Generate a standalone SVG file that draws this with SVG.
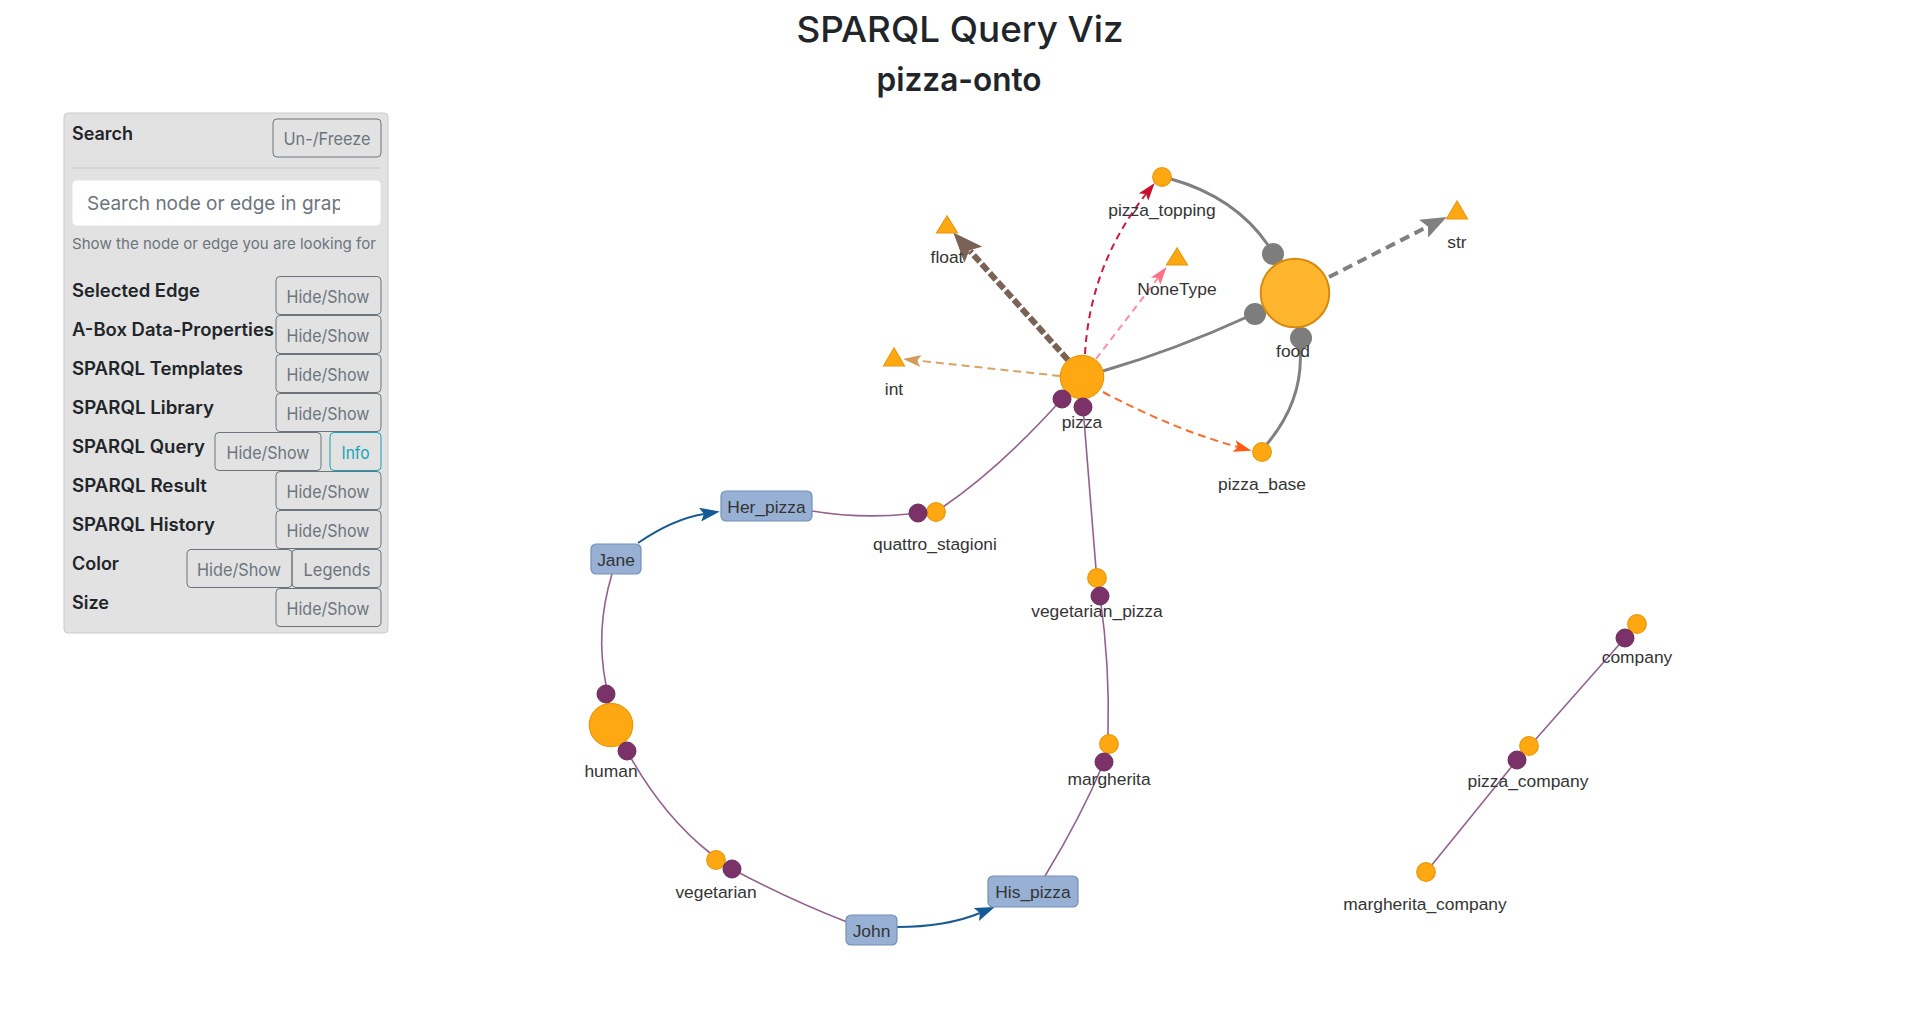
<svg xmlns="http://www.w3.org/2000/svg" width="1920" height="1030" viewBox="0 0 1920 1030">
<style>
.ui{font-family:"Inter","Liberation Sans",Arial,sans-serif}
.title{font-size:36px;font-weight:500;fill:#212529;text-anchor:middle}
.sub{font-size:33px;font-weight:600;fill:#212529;text-anchor:middle}
.hdr{font-size:18px;font-weight:600;fill:#212529}
.btn{fill:none;stroke:#6c757d;stroke-width:1}
.btxt{font-size:17px;fill:#6c757d;text-anchor:middle}
.info{fill:none;stroke:#17a2b8;stroke-width:1}
.itxt{font-size:17px;fill:#17a2b8;text-anchor:middle}
.lbl{font-family:"Liberation Sans",Arial,sans-serif;font-size:17.4px;fill:#343434;text-anchor:middle}
.e-purple{fill:none;stroke:#93618f;stroke-width:1.6}
.e-gray{fill:none;stroke:#808080;stroke-width:3}
.e-blue{fill:none;stroke:#1a5a92;stroke-width:2}
.dot-p{fill:#7a3269;stroke:#6b2b5c;stroke-width:1}
.dot-g{fill:#7d7d7d}
.n-orange{fill:#ffa812;stroke:#e8980c;stroke-width:1.2}
.n-box{fill:#97b0d3;stroke:#7391b8;stroke-width:1.2}
</style>
<defs>
<clipPath id="inputClip"><rect x="72" y="180" width="268" height="46"/></clipPath>
<marker id="mk-brown" viewBox="0 0 30 24" refX="5" refY="12" markerWidth="30" markerHeight="24" markerUnits="userSpaceOnUse" orient="auto"><path d="M0,0 L30,12 L0,24 L6,12 z" fill="#7a6356"/></marker>
<marker id="mk-tan" viewBox="0 0 18 12" refX="4" refY="6" markerWidth="18" markerHeight="12" markerUnits="userSpaceOnUse" orient="auto"><path d="M0,0 L18,6 L0,12 L4,6 z" fill="#d49a5c"/></marker>
<marker id="mk-crimson" viewBox="0 0 18 12" refX="4" refY="6" markerWidth="18" markerHeight="12" markerUnits="userSpaceOnUse" orient="auto"><path d="M0,0 L18,6 L0,12 L4,6 z" fill="#c8102e"/></marker>
<marker id="mk-pink" viewBox="0 0 18 12" refX="4" refY="6" markerWidth="18" markerHeight="12" markerUnits="userSpaceOnUse" orient="auto"><path d="M0,0 L18,6 L0,12 L4,6 z" fill="#ff6f8a"/></marker>
<marker id="mk-orange" viewBox="0 0 18 12" refX="4" refY="6" markerWidth="18" markerHeight="12" markerUnits="userSpaceOnUse" orient="auto"><path d="M0,0 L18,6 L0,12 L4,6 z" fill="#ff5a14"/></marker>
<marker id="mk-gray" viewBox="0 0 26 20" refX="5" refY="10" markerWidth="26" markerHeight="20" markerUnits="userSpaceOnUse" orient="auto"><path d="M0,0 L26,10 L0,20 L5,10 z" fill="#808080"/></marker>
<marker id="mk-blue" viewBox="0 0 20 14" refX="4" refY="7" markerWidth="20" markerHeight="14" markerUnits="userSpaceOnUse" orient="auto"><path d="M0,0 L20,7 L0,14 L4,7 z" fill="#145a94"/></marker>
</defs>
<rect width="1920" height="1030" fill="#ffffff"/>

<g id="titles" class="ui">
<text class="title" x="960" y="42" textLength="327" lengthAdjust="spacingAndGlyphs">SPARQL Query Viz</text>
<text class="sub" x="959" y="91" textLength="165" lengthAdjust="spacingAndGlyphs">pizza-onto</text>
</g>

<g id="panel" class="ui">
<rect x="64" y="113" width="324" height="520" rx="4" fill="#e2e2e2" stroke="#cbcbcb"/>
<text class="hdr" x="72" y="140" textLength="61" lengthAdjust="spacingAndGlyphs">Search</text>
<rect class="btn" x="273" y="119" width="108" height="38" rx="4"/>
<text class="btxt" x="327" y="145" textLength="87" lengthAdjust="spacingAndGlyphs">Un-/Freeze</text>
<line x1="72" y1="168" x2="381" y2="168" stroke="#cacaca"/>
<rect x="72" y="180" width="309" height="46" rx="5" fill="#ffffff" stroke="#e4e4e4"/>
<text clip-path="url(#inputClip)" x="87" y="210" font-size="19" fill="#6c757d">Search node or edge in graph</text>
<text x="72" y="249" font-size="15" fill="#6c757d" textLength="304" lengthAdjust="spacingAndGlyphs">Show the node or edge you are looking for</text>

<text class="hdr" x="72" y="296.5" textLength="128" lengthAdjust="spacingAndGlyphs">Selected Edge</text>
<rect class="btn" x="276" y="276.5" width="105" height="38" rx="4"/>
<text class="btxt" x="328" y="303" textLength="83" lengthAdjust="spacingAndGlyphs">Hide/Show</text>

<text class="hdr" x="72" y="335.5" textLength="202" lengthAdjust="spacingAndGlyphs">A-Box Data-Properties</text>
<rect class="btn" x="276" y="315.5" width="105" height="38" rx="4"/>
<text class="btxt" x="328" y="342" textLength="83" lengthAdjust="spacingAndGlyphs">Hide/Show</text>

<text class="hdr" x="72" y="374.5" textLength="171" lengthAdjust="spacingAndGlyphs">SPARQL Templates</text>
<rect class="btn" x="276" y="354.5" width="105" height="38" rx="4"/>
<text class="btxt" x="328" y="381" textLength="83" lengthAdjust="spacingAndGlyphs">Hide/Show</text>

<text class="hdr" x="72" y="413.5" textLength="142" lengthAdjust="spacingAndGlyphs">SPARQL Library</text>
<rect class="btn" x="276" y="393.5" width="105" height="38" rx="4"/>
<text class="btxt" x="328" y="420" textLength="83" lengthAdjust="spacingAndGlyphs">Hide/Show</text>

<text class="hdr" x="72" y="452.5" textLength="133" lengthAdjust="spacingAndGlyphs">SPARQL Query</text>
<rect class="btn" x="215" y="432.5" width="106" height="38" rx="4"/>
<text class="btxt" x="268" y="459" textLength="83" lengthAdjust="spacingAndGlyphs">Hide/Show</text>
<rect class="info" x="330" y="432.5" width="51" height="38" rx="4"/>
<text class="itxt" x="355.5" y="459" textLength="28" lengthAdjust="spacingAndGlyphs">Info</text>

<text class="hdr" x="72" y="491.5" textLength="135" lengthAdjust="spacingAndGlyphs">SPARQL Result</text>
<rect class="btn" x="276" y="471.5" width="105" height="38" rx="4"/>
<text class="btxt" x="328" y="498" textLength="83" lengthAdjust="spacingAndGlyphs">Hide/Show</text>

<text class="hdr" x="72" y="530.5" textLength="143" lengthAdjust="spacingAndGlyphs">SPARQL History</text>
<rect class="btn" x="276" y="510.5" width="105" height="38" rx="4"/>
<text class="btxt" x="328" y="537" textLength="83" lengthAdjust="spacingAndGlyphs">Hide/Show</text>

<text class="hdr" x="72" y="569.5" textLength="47" lengthAdjust="spacingAndGlyphs">Color</text>
<rect class="btn" x="187" y="549.5" width="105" height="38" rx="4"/>
<text class="btxt" x="239" y="576" textLength="84" lengthAdjust="spacingAndGlyphs">Hide/Show</text>
<rect class="btn" x="292" y="549.5" width="89" height="38" rx="4"/>
<text class="btxt" x="337" y="576" textLength="67" lengthAdjust="spacingAndGlyphs">Legends</text>

<text class="hdr" x="72" y="608.5" textLength="37" lengthAdjust="spacingAndGlyphs">Size</text>
<rect class="btn" x="276" y="588.5" width="105" height="38" rx="4"/>
<text class="btxt" x="328" y="615" textLength="83" lengthAdjust="spacingAndGlyphs">Hide/Show</text>
</g>

<g id="connectors">
<path d="M1068,360 L970,251" fill="none" stroke="#7a6356" stroke-width="6" stroke-dasharray="9 3" marker-end="url(#mk-brown)"/>
<path d="M1060,376 L917,360.5" fill="none" stroke="#d9a264" stroke-width="2" stroke-dasharray="8 5" marker-end="url(#mk-tan)"/>
<path d="M1085,354 Q1090,265 1146,194" fill="none" stroke="#d0183c" stroke-width="2" stroke-dasharray="7 5" marker-end="url(#mk-crimson)"/>
<path d="M1096,359 L1158,278" fill="none" stroke="#ff8ea2" stroke-width="2" stroke-dasharray="7 5" marker-end="url(#mk-pink)"/>
<path d="M1103,392 Q1175,430 1238,447" fill="none" stroke="#ff6a2b" stroke-width="2" stroke-dasharray="8 5" marker-end="url(#mk-orange)"/>
<path d="M1329,277 L1428,226.5" fill="none" stroke="#808080" stroke-width="4" stroke-dasharray="10 6" marker-end="url(#mk-gray)"/>

<path class="e-gray" d="M1103,371 Q1175,350 1247,317"/>
<path class="e-gray" d="M1171,179 Q1235,197 1268,245"/>
<path class="e-gray" d="M1300,348 Q1304,400 1267,444"/>
<circle class="dot-g" cx="1273" cy="254" r="11"/>
<circle class="dot-g" cx="1255" cy="314" r="11"/>
<circle class="dot-g" cx="1301" cy="338" r="11"/>

<path class="e-purple" d="M1062,399 Q1001,467 943,507"/>
<path class="e-purple" d="M812,511 Q860,519 909,514"/>
<path class="e-purple" d="M1083,407 L1096,569"/>
<path class="e-purple" d="M1100,596 Q1110,666 1108,735"/>
<path class="e-purple" d="M1104,762 Q1081,817 1045,876"/>
<path class="e-purple" d="M612,574 Q595,630 606,685"/>
<path class="e-purple" d="M627,751 Q662,815 710,853"/>
<path class="e-purple" d="M732,869 Q792,901 847,922"/>
<path class="e-purple" d="M1625,638 L1535,740"/>
<path class="e-purple" d="M1517,760 L1431,866"/>

<path class="e-blue" d="M638,543 Q673,519 704,514" marker-end="url(#mk-blue)"/>
<path class="e-blue" d="M897,927 Q946,927 980,913" marker-end="url(#mk-blue)"/>
</g>

<g id="node-pizza"><circle class="n-orange" cx="1082" cy="377" r="21.7"/><text class="lbl" x="1082" y="428">pizza</text></g>
<g id="node-food"><circle cx="1295" cy="293" r="34.3" fill="#ffb62e" stroke="#d68a10" stroke-width="2"/><text class="lbl" x="1293" y="357">food</text></g>
<g id="node-human"><circle class="n-orange" cx="611" cy="725" r="21.7"/><text class="lbl" x="611" y="777">human</text></g>
<g id="node-pizza_topping"><circle class="n-orange" cx="1162" cy="177" r="9.3"/><text class="lbl" x="1162" y="216">pizza_topping</text></g>
<g id="node-pizza_base"><circle class="n-orange" cx="1262" cy="452" r="9.3"/><text class="lbl" x="1262" y="490">pizza_base</text></g>
<g id="node-quattro_stagioni"><circle class="n-orange" cx="936" cy="512" r="9.3"/><text class="lbl" x="935" y="550">quattro_stagioni</text></g>
<g id="node-vegetarian_pizza"><circle class="n-orange" cx="1097" cy="578" r="9.3"/><text class="lbl" x="1097" y="617">vegetarian_pizza</text></g>
<g id="node-margherita"><circle class="n-orange" cx="1109" cy="744" r="9.3"/><text class="lbl" x="1109" y="785">margherita</text></g>
<g id="node-vegetarian"><circle class="n-orange" cx="716" cy="860" r="9.3"/><text class="lbl" x="716" y="898">vegetarian</text></g>
<g id="node-company"><circle class="n-orange" cx="1637" cy="624" r="9.3"/><text class="lbl" x="1637" y="663">company</text></g>
<g id="node-pizza_company"><circle class="n-orange" cx="1529" cy="746" r="9.3"/><text class="lbl" x="1528" y="787">pizza_company</text></g>
<g id="node-margherita_company"><circle class="n-orange" cx="1426" cy="872" r="9.3"/><text class="lbl" x="1425" y="910">margherita_company</text></g>
<g id="node-float"><polygon class="n-orange" points="947,216 936.5,233 957.5,233"/><text class="lbl" x="947" y="263">float</text></g>
<g id="node-NoneType"><polygon class="n-orange" points="1177,248 1166.5,265 1187.5,265"/><text class="lbl" x="1177" y="295">NoneType</text></g>
<g id="node-int"><polygon class="n-orange" points="894,348 883.5,366 904.5,366"/><text class="lbl" x="894" y="395">int</text></g>
<g id="node-str"><polygon class="n-orange" points="1457,201 1446.5,219 1467.5,219"/><text class="lbl" x="1457" y="248">str</text></g>
<g id="node-Her_pizza"><rect class="n-box" x="721" y="491" width="91" height="30" rx="5"/><text class="lbl" x="766.5" y="512.5">Her_pizza</text></g>
<g id="node-Jane"><rect class="n-box" x="591" y="544" width="50" height="30" rx="5"/><text class="lbl" x="616" y="565.5">Jane</text></g>
<g id="node-His_pizza"><rect class="n-box" x="988" y="876" width="90" height="31" rx="5"/><text class="lbl" x="1033" y="898">His_pizza</text></g>
<g id="node-John"><rect class="n-box" x="846" y="915" width="51" height="30" rx="5"/><text class="lbl" x="871.5" y="936.5">John</text></g>

<g id="edge-dots">
<circle class="dot-p" cx="1062" cy="399" r="9"/>
<circle class="dot-p" cx="1083" cy="407" r="9"/>
<circle class="dot-p" cx="918" cy="513" r="9"/>
<circle class="dot-p" cx="1100" cy="596" r="9"/>
<circle class="dot-p" cx="1104" cy="762" r="9"/>
<circle class="dot-p" cx="606" cy="694" r="9"/>
<circle class="dot-p" cx="627" cy="751" r="9"/>
<circle class="dot-p" cx="732" cy="869" r="9"/>
<circle class="dot-p" cx="1625" cy="638" r="9"/>
<circle class="dot-p" cx="1517" cy="760" r="9"/>
</g>
</svg>
